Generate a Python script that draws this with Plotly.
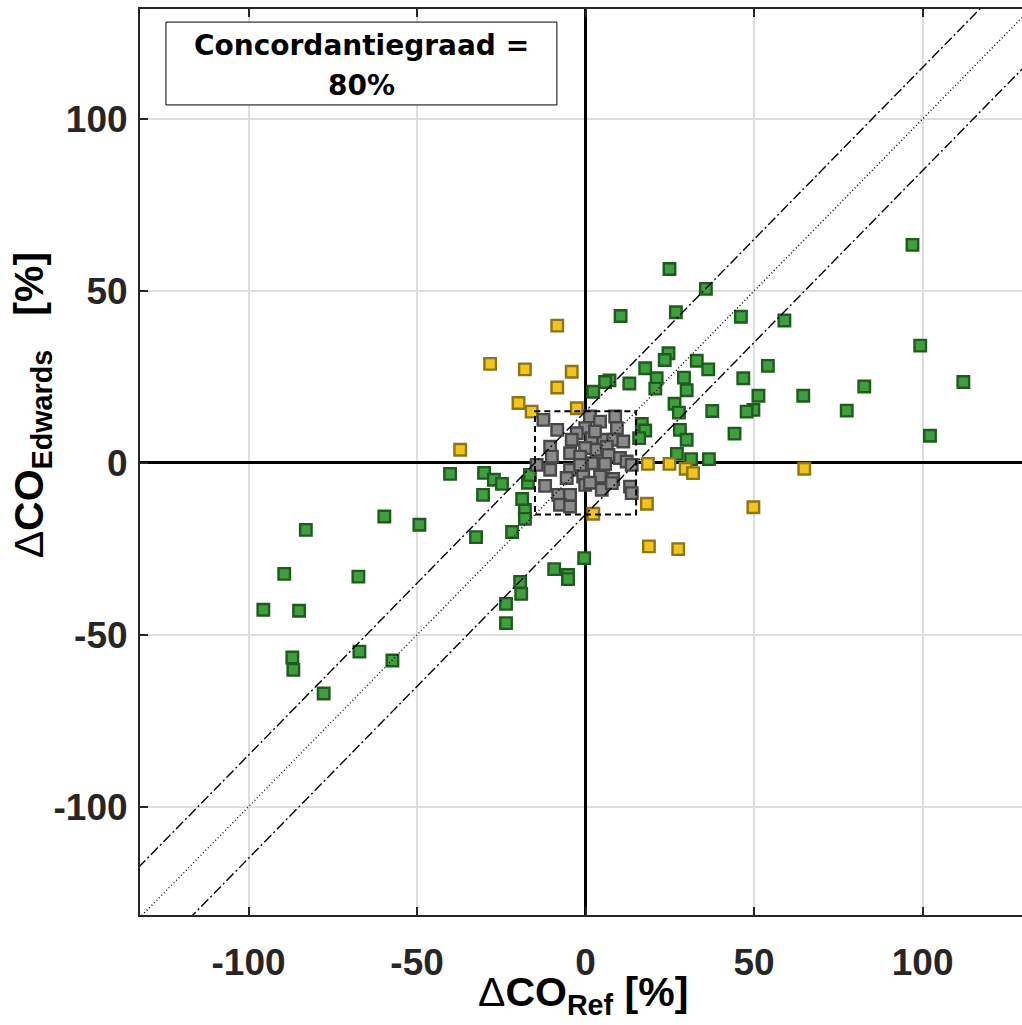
import numpy as np
import plotly.graph_objects as go

# Percentage changes in cardiac output: reference method (x) vs Edwards (y)
green_x = [-83.0, -59.7, -49.3, -89.4, -67.4, -95.6, -85.0, -87.0, -86.7, -67.1, -57.3, -77.7,
           -40.2, -30.1, -27.2, -24.8, -30.4,
           -32.5, -21.8, -18.0, -18.0, -18.8, -19.4, -19.1, -23.6, -23.6, -9.3, -5.2, -5.2, -0.4,
           -17.1, -16.5,
           24.9, 35.7, 10.4, 26.8, 46.1, 59.0, 24.6, 23.5, 17.7, 21.1, 20.7, 33.0, 36.4, 29.2, 30.0,
           13.0, 7.1, 5.8, 2.3, 54.1, 46.8, 51.3, 49.8, 47.8, 37.6, 26.4, 27.7, 44.2, 28.0, 30.0,
           16.7, 17.7, 15.9, 27.1, 31.3, 36.6, 64.6,
           97.0, 99.3, 82.7, 112.1, 77.5, 102.2]
green_y = [-19.5, -15.6, -18.0, -32.3, -33.1, -42.7, -43.0, -56.6, -60.2, -54.9, -57.5, -67.1,
           -3.2, -2.9, -4.9, -6.1, -9.3,
           -21.6, -20.1, -13.7, -16.3, -10.5, -34.6, -38.1, -41.0, -46.6, -30.9, -32.6, -33.8, -27.7,
           -5.8, -3.5,
           56.4, 50.6, 42.7, 43.8, 42.5, 41.4, 31.9, 29.9, 27.5, 24.6, 21.6, 29.7, 27.2, 24.8, 21.1,
           23.1, 24.0, 23.5, 20.7, 28.2, 24.6, 19.5, 15.4, 14.9, 15.1, 17.2, 14.6, 8.5, 9.6, 6.7,
           11.3, 9.4, 7.2, 2.6, 1.1, 1.1, 19.5,
           63.4, 34.1, 22.2, 23.5, 15.2, 7.9]

yellow_x = [-8.4, -28.3, -18.0, -4.1, -8.4, -19.9, -16.0, -2.6, -37.2,
            18.5, 24.9, 29.7, 31.9, 64.9, 18.2, 49.8, 2.3, 18.8, 27.5]
yellow_y = [39.9, 28.8, 27.2, 26.5, 21.9, 17.4, 14.9, 15.9, 3.8,
            -0.3, -0.3, -1.7, -3.0, -1.7, -11.9, -12.9, -14.8, -24.3, -25.1]

gray_x = [-12.5, 1.3, 4.3, 8.8, -0.1, 9.3, -8.4, -2.6, -4.1, 1.8, 5.3, 8.2, 11.2,
          -10.5, -0.1, 3.3, 6.3, -10.0, -4.6, -1.6, 6.8, 10.2, 12.2,
          -14.5, -10.5, -4.6, -1.6, 2.3, 5.3, 13.7,
          -5.6, -0.7, 4.3, 8.2, -12.0, -0.1, 4.8, 13.2, 13.7,
          -8.1, -4.6, -7.6, -4.6, 2.8, 1.3, 5.8, 7.8]
gray_y = [12.5, 13.5, 12.0, 13.5, 10.1, 10.1, 9.6, 8.6, 6.7, 7.2, 6.7, 6.7, 6.2,
          4.7, 4.3, 3.8, 4.7, 1.8, 2.8, 1.8, 2.3, 1.4, 0.4,
          -0.6, -2.0, -2.0, -0.6, -0.1, -0.6, -0.6,
          -4.4, -4.0, -4.0, -4.7, -6.7, -6.4, -7.8, -6.9, -8.8,
          -9.3, -9.3, -12.2, -12.7, 9.1, -5.8, -0.3, -5.9]

# Concordance exclusion zone and agreement band (in %)
exclusion_zone = 15
band = 15
concordance_text = ["Concordantiegraad =", "80%"]

x_range = [-132.2, 129.5]
y_range = [-131.5, 132.0]
tick_vals = [-100, -50, 0, 50, 100]

fig = go.Figure()


def add_group(xs, ys, fill, edge):
    fig.add_trace(go.Scatter(
        x=xs, y=ys, mode="markers",
        marker=dict(symbol="square", size=11.5, color=fill,
                    line=dict(color=edge, width=2.4)),
        showlegend=False, hoverinfo="skip"))


add_group(green_x, green_y, "#3f9f3f", "#1f5a1f")
add_group(yellow_x, yellow_y, "#f2c51c", "#8d7414")
add_group(gray_x, gray_y, "#8a8a8a", "#474747")

# Identity line and the +/- band lines
xl = np.array([-200.0, 200.0])
fig.add_trace(go.Scatter(x=xl, y=xl, mode="lines",
                         line=dict(color="black", width=1.4, dash="1px,2.5px"),
                         showlegend=False, hoverinfo="skip"))
for off in (band, -band):
    fig.add_trace(go.Scatter(x=xl, y=xl + off, mode="lines",
                             line=dict(color="black", width=1.4, dash="10px,3px,2px,3px"),
                             showlegend=False, hoverinfo="skip"))

# Central exclusion zone
fig.add_shape(type="rect", xref="x", yref="y",
              x0=-exclusion_zone, x1=exclusion_zone,
              y0=-exclusion_zone, y1=exclusion_zone,
              line=dict(color="black", width=2, dash="6px,4px"), layer="above")

# Concordance label box
fig.add_shape(type="rect", xref="x", yref="y", x0=-124.5, x1=-8.5, y0=104.1, y1=128.2,
              line=dict(color="black", width=1), fillcolor="white", layer="above")
for txt, yy in zip(concordance_text, [121.3, 109.8]):
    fig.add_annotation(x=-66.5, y=yy, xref="x", yref="y", text=txt, showarrow=False,
                       font=dict(family="DejaVu Sans", size=28, color="black", weight="bold"),
                       xanchor="center", yanchor="middle")

tick_font = dict(family="Liberation Sans, Arial", size=37, color="#262626", weight="bold")

axis_common = dict(
    tickvals=tick_vals, ticktext=[str(v) for v in tick_vals],
    showgrid=True, gridcolor="#dedede", gridwidth=2,
    zeroline=True, zerolinecolor="black", zerolinewidth=2.5,
    showline=True, linecolor="#262626", linewidth=2,
    ticks="inside", ticklen=8, tickwidth=2, tickcolor="#262626",
    tickfont=tick_font,
)

fig.update_xaxes(range=x_range, mirror="ticks", ticklabelstandoff=14, **axis_common)
fig.update_yaxes(range=y_range, mirror=False, ticklabelstandoff=3, **axis_common)

title_font = dict(family="Liberation Sans, Arial", size=41, color="black")
fig.add_annotation(xref="paper", yref="paper", x=0.502, y=-0.088,
                   text="Δ<b>CO<sub>Ref</sub> [%]</b>", showarrow=False,
                   font=title_font, xanchor="center", yanchor="middle")
fig.add_annotation(xref="paper", yref="paper", x=-0.122, y=0.563,
                   text="Δ<b>CO<sub>Edwards</sub>&nbsp;&nbsp;&nbsp;[%]</b>", showarrow=False,
                   font=title_font, textangle=-90, xanchor="center", yanchor="middle")

fig.update_layout(
    width=1022, height=1025,
    margin=dict(l=140, r=0, t=9, b=110),
    paper_bgcolor="white", plot_bgcolor="white",
)

fig.write_html("out.html")
